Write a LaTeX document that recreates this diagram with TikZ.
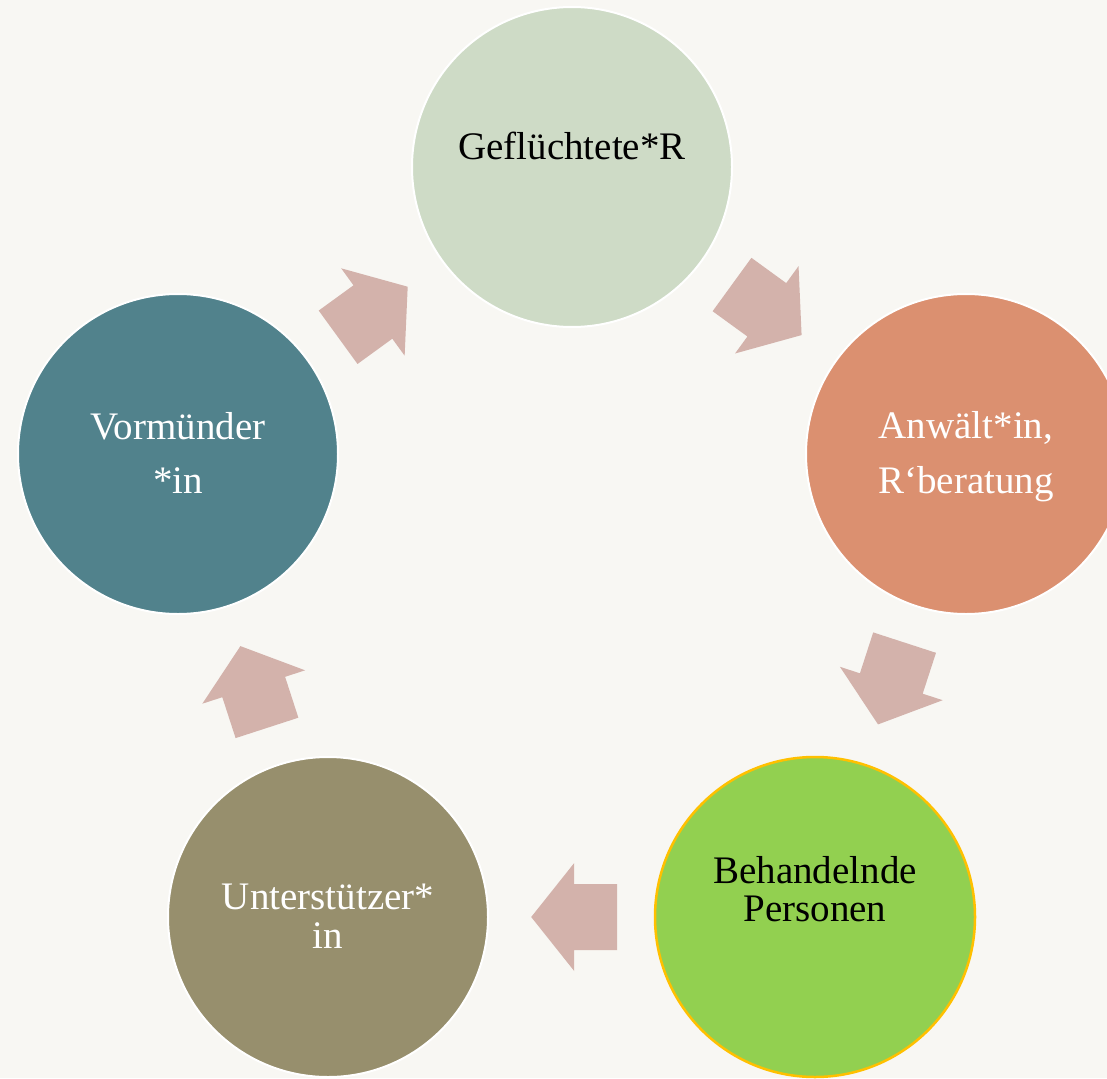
\documentclass[tikz,border=0pt]{standalone}
\usepackage{fontspec}
\setmainfont{Liberation Serif}
\definecolor{bgc}{RGB}{248,247,243}
\definecolor{cGefl}{RGB}{206,219,198}
\definecolor{cAnw}{RGB}{219,144,112}
\definecolor{cBeh}{RGB}{146,208,80}
\definecolor{cBehLine}{RGB}{255,192,0}
\definecolor{cUnt}{RGB}{151,143,109}
\definecolor{cVor}{RGB}{81,130,140}
\definecolor{arrowc}{RGB}{211,178,171}
\begin{document}
\begin{tikzpicture}[x=1pt,y=-1pt,
  disc/.style={circle, draw=white, line width=2pt, minimum size=320pt, inner sep=0pt},
  lbl/.style={anchor=base, inner sep=0pt, font=\fontsize{39}{47}\selectfont},
  blockarrow/.style={fill=arrowc, draw=none}]
\clip (0,0) rectangle (1107,1078);
\fill[bgc] (0,0) rectangle (1107,1078);
% circles
\node[disc, fill=cGefl] (gefl) at (572,167) {};
\node[disc, fill=cAnw] (anw) at (966,454) {};
\node[disc, fill=cBeh, draw=cBehLine, line width=2.5pt] (beh) at (815,917) {};
\node[disc, fill=cUnt] (unt) at (328,917) {};
\node[disc, fill=cVor] (vor) at (178,454) {};
% labels
\node[lbl, text=black] (t1) at (572,160) {Geflüchtete*R};
\node[lbl, text=white] (t2a) at (966,438) {Anwält*in,};
\node[lbl, text=white] (t2b) at (966,493) {R‘beratung};
\node[lbl, text=black] (t3a) at (815,883) {Behandelnde};
\node[lbl, text=black] (t3b) at (815,921) {Personen};
\node[lbl, text=white] (t4a) at (328,909) {Unterstützer*};
\node[lbl, text=white] (t4b) at (328,948) {in};
\node[lbl, text=white] (t5a) at (178,439) {Vormünder};
\node[lbl, text=white] (t5b) at (178,493) {*in};
% block arrows
\foreach \cx/\cy/\ang in {372.9/312/36, 766.8/309.8/-36, 891.3/683.5/-108, 574.2/917/180, 253.7/687/108}{
  \fill[blockarrow, shift={(\cx,\cy)}, rotate=\ang]
    (-43,-33) -- (0,-33) -- (0,-54) -- (43,0) -- (0,54) -- (0,33) -- (-43,33) -- cycle;
}
\end{tikzpicture}
\end{document}
